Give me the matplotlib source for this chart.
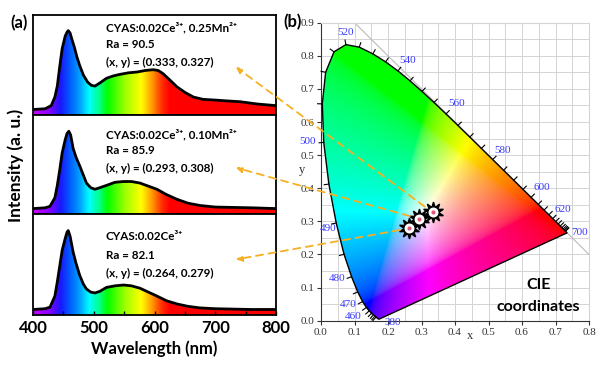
import numpy as np
import matplotlib
matplotlib.use('Agg')
import matplotlib.pyplot as plt
from matplotlib.colors import LinearSegmentedColormap, Normalize
from matplotlib.patches import Polygon, ConnectionPatch

plt.rcParams['font.family'] = ['Lato', 'DejaVu Sans']

# ---------------- panel (a): emission spectra ----------------
wl_top = [400, 420, 430, 436, 440, 444, 448, 453, 456, 458, 461, 464, 468, 472, 477, 483, 490,
          496, 502, 510, 521, 532, 543, 557, 571, 585, 598, 606, 614, 625, 637, 650, 664, 680,
          702, 720, 741, 770, 800]
int_top = [0.0, 0.01, 0.05, 0.16, 0.30, 0.55, 0.78, 0.94, 0.99, 1.01, 0.98, 0.90, 0.80, 0.68,
           0.56, 0.44, 0.35, 0.31, 0.30, 0.34, 0.40, 0.43, 0.45, 0.47, 0.48, 0.50, 0.51, 0.50,
           0.46, 0.38, 0.29, 0.22, 0.16, 0.13, 0.12, 0.11, 0.10, 0.07, 0.05]

wl_mid = [400, 420, 428, 436, 440, 444, 448, 453, 456, 459, 462, 466, 471, 477, 483, 488, 495,
          502, 510, 521, 535, 549, 562, 576, 590, 604, 620, 637, 655, 675, 700, 730, 760, 800]
int_mid = [0.0, 0.01, 0.03, 0.14, 0.30, 0.50, 0.72, 0.89, 0.97, 1.0, 0.95, 0.78, 0.66, 0.55,
           0.43, 0.33, 0.27, 0.25, 0.27, 0.30, 0.34, 0.35, 0.35, 0.33, 0.29, 0.25, 0.18, 0.12,
           0.07, 0.04, 0.02, 0.015, 0.01, 0.0]

wl_bot = [400, 420, 428, 436, 440, 444, 448, 453, 456, 458, 461, 466, 471, 477, 483, 488, 495,
          502, 510, 521, 535, 549, 562, 576, 590, 604, 620, 637, 655, 675, 700, 730, 760, 800]
int_bot = [0.0, 0.01, 0.03, 0.17, 0.35, 0.55, 0.75, 0.90, 0.98, 1.0, 0.93, 0.73, 0.58, 0.43,
           0.32, 0.26, 0.22, 0.21, 0.23, 0.28, 0.30, 0.31, 0.30, 0.27, 0.22, 0.17, 0.11, 0.07,
           0.04, 0.02, 0.01, 0.005, 0.0, 0.0]

samples = ['CYAS:0.02Ce³⁺, 0.25Mn²⁺', 'CYAS:0.02Ce³⁺, 0.10Mn²⁺', 'CYAS:0.02Ce³⁺']
ra_values = [90.5, 85.9, 82.1]
cie_x = [0.333, 0.293, 0.264]
cie_y = [0.327, 0.308, 0.279]

# ---------------- panel (b): CIE 1931 spectral locus ----------------
locus_nm = [380, 385, 390, 395, 400, 405, 410, 415, 420, 425, 430, 435, 440, 445, 450, 455,
            460, 465, 470, 475, 480, 485, 490, 495, 500, 505, 510, 515, 520, 525, 530, 535,
            540, 545, 550, 555, 560, 565, 570, 575, 580, 585, 590, 595, 600, 605, 610, 615,
            620, 625, 630, 635, 640, 645, 650, 655, 660, 665, 670, 675, 680, 690, 700]
locus_x = [0.17411, 0.17401, 0.17380, 0.17356, 0.17334, 0.17302, 0.17258, 0.17209, 0.17141,
           0.17030, 0.16888, 0.16690, 0.16441, 0.16110, 0.15664, 0.15099, 0.14396, 0.13550,
           0.12412, 0.10959, 0.09129, 0.06871, 0.04539, 0.02346, 0.00817, 0.00386, 0.01387,
           0.03885, 0.07430, 0.11416, 0.15472, 0.19288, 0.22962, 0.26578, 0.30160, 0.33736,
           0.37310, 0.40874, 0.44406, 0.47877, 0.51249, 0.54479, 0.57515, 0.60293, 0.62704,
           0.64823, 0.66576, 0.68008, 0.69150, 0.70061, 0.70792, 0.71403, 0.71903, 0.72303,
           0.72599, 0.72827, 0.72997, 0.73109, 0.73199, 0.73272, 0.73342, 0.73420, 0.73469]
locus_y = [0.00496, 0.00498, 0.00492, 0.00492, 0.00480, 0.00478, 0.00480, 0.00483, 0.00510,
           0.00579, 0.00690, 0.00856, 0.01086, 0.01379, 0.01771, 0.02274, 0.02970, 0.03988,
           0.05780, 0.08684, 0.13270, 0.20072, 0.29498, 0.41270, 0.53842, 0.65482, 0.75019,
           0.81202, 0.83380, 0.82621, 0.80586, 0.78163, 0.75433, 0.72432, 0.69231, 0.65885,
           0.62445, 0.58961, 0.55471, 0.52020, 0.48659, 0.45443, 0.42423, 0.39650, 0.37249,
           0.35139, 0.33401, 0.31975, 0.30834, 0.29930, 0.29203, 0.28593, 0.28093, 0.27695,
           0.27401, 0.27173, 0.27003, 0.26891, 0.26801, 0.26728, 0.26658, 0.26580, 0.26531]

nm_labels = ['520', '540', '560', '580', '600', '620', '700', '500', '490', '480', '470', '460', '380']
nm_label_x = [0.072, 0.260, 0.406, 0.543, 0.660, 0.722, 0.773, -0.039, 0.021, 0.048, 0.081, 0.096, 0.215]
nm_label_y = [0.869, 0.785, 0.655, 0.513, 0.401, 0.337, 0.265, 0.540, 0.277, 0.126, 0.050, 0.014, -0.004]

fig = plt.figure(figsize=(6, 3.66), dpi=100)

# rainbow colours for the spectrum fill
spec_stops = [(400, '#c800ff'), (425, '#8a00ff'), (445, '#1818ff'), (462, '#0064ff'),
              (478, '#00a8ff'), (492, '#00ffff'), (508, '#00ff90'), (522, '#00ff00'),
              (552, '#a0ff00'), (578, '#ffff00'), (595, '#ffa000'), (612, '#ff3000'),
              (625, '#ff0000'), (800, '#ff0000')]
spec_cmap = LinearSegmentedColormap.from_list(
    'spec', [((w - 400) / 400, c) for w, c in spec_stops])

ymin, ymax = -0.07, 1.21
panel_rects = [[0.055, 0.6858, 0.405, 0.2732],
               [0.055, 0.4153, 0.405, 0.2705],
               [0.055, 0.1393, 0.405, 0.2760]]
spectra = [(wl_top, int_top), (wl_mid, int_mid), (wl_bot, int_bot)]
text_y = [[0.87, 0.71, 0.53], [0.80, 0.64, 0.46], [0.775, 0.59, 0.41]]
arrow_y = [0.48, 0.468, 0.55]

axes_a = []
for i, (wl, vals) in enumerate(spectra):
    ax = fig.add_axes(panel_rects[i])
    axes_a.append(ax)
    ax.set_xlim(400, 800)
    ax.set_ylim(ymin, ymax)
    grad = np.linspace(400, 800, 800)[None, :]
    im = ax.imshow(grad, cmap=spec_cmap, norm=Normalize(400, 800), aspect='auto',
                   extent=[400, 800, ymin, ymax], origin='lower', interpolation='bilinear')
    fill = ax.fill_between(wl, vals, ymin, facecolor='none', edgecolor='none')
    im.set_clip_path(fill.get_paths()[0], ax.transData)
    ax.plot(wl, vals, color='k', lw=2, solid_joinstyle='round')
    ax.set_yticks([])
    for s in ax.spines.values():
        s.set_linewidth(1.3)
    tr = ax.get_xaxis_transform()
    ax.text(520, text_y[i][0], samples[i], transform=tr, fontsize=8.4,
            fontweight='bold', va='center')
    ax.text(520, text_y[i][1], 'Ra = %.1f' % ra_values[i], transform=tr,
            fontsize=8.4, fontweight='bold', va='center')
    ax.text(520, text_y[i][2], '(x, y) = (%.3f, %.3f)' % (cie_x[i], cie_y[i]),
            transform=tr, fontsize=8.4, fontweight='bold', va='center')
    if i < 2:
        ax.set_xticks([])
    else:
        ax.set_xticks([400, 500, 600, 700, 800])
        ax.set_xticks([450, 550, 650, 750], minor=True)
        ax.tick_params(which='both', direction='in', length=3, width=1, top=False)
        ax.tick_params(labelsize=12)
        for lab in ax.get_xticklabels():
            lab.set_fontweight('bold')
        ax.set_xlabel('Wavelength (nm)', fontsize=12, fontweight='bold', labelpad=3)

fig.text(0.027, 0.549, 'Intensity (a. u.)', rotation=90, ha='center', va='center',
         fontsize=12.5, fontweight='bold')
fig.text(0.018, 0.937, '(a)', fontsize=12, fontweight='bold', va='center')
fig.text(0.472, 0.94, '(b)', fontsize=12, fontweight='bold', va='center')

# ---------------- CIE diagram ----------------
axb = fig.add_axes([0.535, 0.1238, 0.4467, 0.8142])
axb.set_xlim(0, 0.8)
axb.set_ylim(0, 0.9)
axb.set_xticks(np.arange(0, 0.81, 0.1))
axb.set_yticks(np.arange(0, 0.91, 0.1))
axb.set_xticks(np.arange(0.05, 0.8, 0.1), minor=True)
axb.set_yticks(np.arange(0.05, 0.9, 0.1), minor=True)
axb.grid(which='both', color='#d4d4d4', lw=0.7)
axb.set_axisbelow(True)
axb.tick_params(which='major', direction='out', length=3, width=0.8, color='#333333',
                labelsize=8, labelcolor='#333333', pad=2)
axb.tick_params(which='minor', length=0)
axb.set_xticklabels(['%.1f' % v for v in np.arange(0, 0.81, 0.1)], family='Liberation Serif')
axb.set_yticklabels(['%.1f' % v for v in np.arange(0, 0.91, 0.1)], family='Liberation Serif')
axb.spines['left'].set_color('#333333')
axb.spines['bottom'].set_color('#333333')
axb.spines['top'].set_color('#d4d4d4')
axb.spines['right'].set_color('#d4d4d4')

# chromaticity colours over the plane, clipped to the locus
gx, gy = np.meshgrid(np.linspace(0, 0.8, 480), np.linspace(0.001, 0.9, 540))
X = gx / gy
Z = (1 - gx - gy) / gy
M = np.array([[3.2406, -1.5372, -0.4986], [-0.9689, 1.8758, 0.0415], [0.0557, -0.2040, 1.0570]])
rgb = np.stack([M[k, 0] * X + M[k, 1] + M[k, 2] * Z for k in range(3)], axis=-1)
rgb = np.clip(rgb, 0, None)
rgb = rgb / rgb.max(axis=-1, keepdims=True)
rgb = np.where(rgb <= 0.0031308, 12.92 * rgb, 1.055 * rgb ** (1 / 2.4) - 0.055)
rgb = np.clip(rgb, 0, 1)
cim = axb.imshow(rgb, extent=[0, 0.8, 0.001, 0.9], origin='lower', aspect='auto',
                 interpolation='bilinear', zorder=1)
locus = Polygon(np.column_stack([locus_x, locus_y]), closed=True, facecolor='none',
                edgecolor='k', lw=1, zorder=3)
axb.add_patch(locus)
cim.set_clip_path(locus)

# white-point diagonal x + y = 1
axb.plot([0.1, 0.8], [0.9, 0.2], color='#bbbbbb', lw=0.8, zorder=2)

# small ticks on the locus
lx = np.array(locus_x)
ly = np.array(locus_y)
for j in range(1, len(locus_nm) - 1):
    if locus_nm[j] < 440 or locus_nm[j] > 660:
        continue
    dx = lx[j + 1] - lx[j - 1]
    dy = ly[j + 1] - ly[j - 1]
    n = np.hypot(dx, dy)
    nx, ny = dy / n, -dx / n
    axb.plot([lx[j], lx[j] - nx * 0.014], [ly[j], ly[j] - ny * 0.014], color='k', lw=0.8,
             zorder=3, clip_on=False)

for lab, tx, ty in zip(nm_labels, nm_label_x, nm_label_y):
    axb.text(tx, ty, lab, color='#3a3aff', fontsize=8, family='Liberation Serif',
             ha='center', va='center', zorder=5, clip_on=False)

axb.text(-0.058, 0.455, 'y', family='Liberation Serif', fontsize=9, color='#333333',
         ha='center', va='center')
axb.text(0.445, -0.045, 'x', family='Liberation Serif', fontsize=9, color='#333333',
         ha='center', va='center')
axb.text(0.648, 0.108, 'CIE', fontsize=11.5, fontweight='bold', ha='center', va='center', zorder=5)
axb.text(0.648, 0.041, 'coordinates', fontsize=11.5, fontweight='bold', ha='center',
         va='center', zorder=5)

# sample points
axb.plot(cie_x, cie_y, ls='none', marker=(10, 1, 0), ms=15, mfc='k', mec='k', zorder=6)
axb.plot(cie_x, cie_y, ls='none', marker='o', ms=8, mfc='white', mec='k', mew=0.8, zorder=7)
axb.plot(cie_x, cie_y, ls='none', marker='o', ms=3, mfc='#e05a7a', mec='none', zorder=8)

# dashed arrows from the points to the text in panel (a)
for i in range(3):
    con = ConnectionPatch(xyA=(cie_x[i], cie_y[i]), coordsA='data', axesA=axb,
                          xyB=(0.835, arrow_y[i]), coordsB='axes fraction', axesB=axes_a[i],
                          arrowstyle='-|>', color='#f5b023', lw=1.3, ls=(0, (4, 3)),
                          mutation_scale=9, shrinkA=7, shrinkB=0, zorder=5)
    fig.add_artist(con)

fig.savefig('out.png', dpi=100)
